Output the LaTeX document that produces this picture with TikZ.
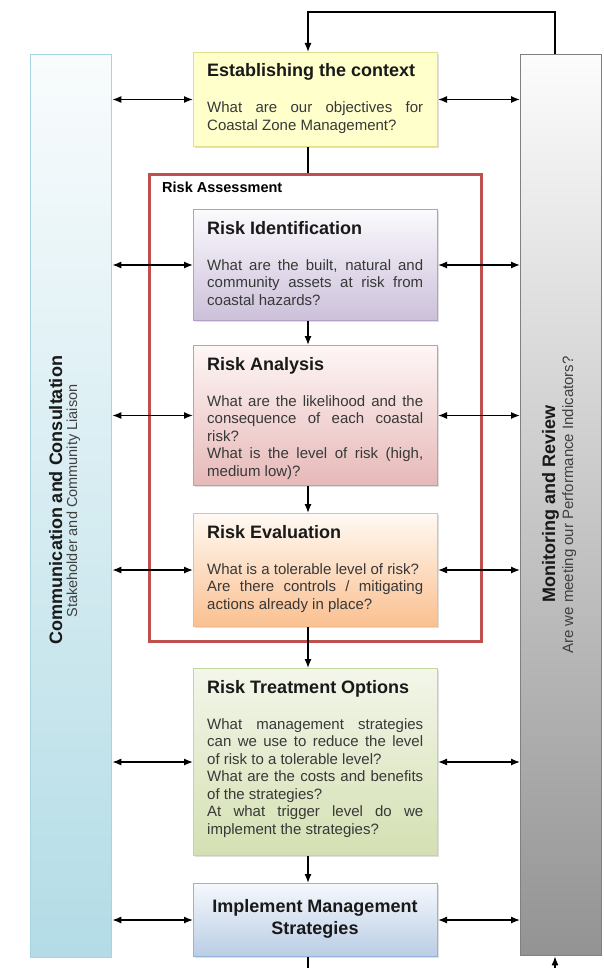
\documentclass[tikz,border=0pt]{standalone}
\usepackage{fontspec}
\setmainfont{Liberation Sans}
\usetikzlibrary{arrows.meta,shadows,calc}

\definecolor{ctxfill}{HTML}{FFFFCC}
\definecolor{ctxline}{HTML}{E0E08C}
\definecolor{idtop}{HTML}{FBFAFD}
\definecolor{idbot}{HTML}{CCC0DA}
\definecolor{idline}{HTML}{B1A0C7}
\definecolor{antop}{HTML}{FEF6F6}
\definecolor{anbot}{HTML}{E6B9B8}
\definecolor{anline}{HTML}{D99694}
\definecolor{evtop}{HTML}{FFF9F3}
\definecolor{evbot}{HTML}{FAC090}
\definecolor{evline}{HTML}{F6B98A}
\definecolor{trtop}{HTML}{F3F6EA}
\definecolor{trbot}{HTML}{D4E0B2}
\definecolor{trline}{HTML}{C3D69B}
\definecolor{imtop}{HTML}{F5F8FC}
\definecolor{imbot}{HTML}{B9CDE5}
\definecolor{imline}{HTML}{95B3D7}
\definecolor{comtop}{HTML}{F9FCFD}
\definecolor{combot}{HTML}{B3DCE6}
\definecolor{comline}{HTML}{A5D5E0}
\definecolor{revtop}{HTML}{FCFCFC}
\definecolor{revbot}{HTML}{939393}
\definecolor{revline}{HTML}{808080}
\definecolor{rared}{HTML}{C0504D}

\newcommand\mybody[1]{\begin{minipage}[t]{216pt}\fontsize{15}{17.5}\selectfont\tolerance=10000\hyphenpenalty=10000\exhyphenpenalty=10000\parindent=0pt #1\end{minipage}}

\begin{document}
\begin{tikzpicture}[x=1pt,y=1pt,
  box/.style={draw, line width=1pt, rectangle, inner sep=0pt, anchor=north west,
    drop shadow={shadow xshift=1.5pt,shadow yshift=-1.5pt,opacity=0.25}},
  bar/.style={draw, line width=1.3pt, rectangle, inner sep=0pt, anchor=north west,
    minimum width=81pt},
  ttl/.style={anchor=base west, inner sep=0pt, font=\fontsize{18}{22}\selectfont\bfseries, text=black!90},
  bdy/.style={anchor=base west, inner sep=0pt, text=black!78},
  rtitle/.style={rotate=90, anchor=base, inner sep=0pt, font=\fontsize{18}{22}\selectfont\bfseries, text=black!90},
  rsub/.style={rotate=90, anchor=base, inner sep=0pt, text=black!75},
  arr/.style={-{Latex[length=9pt,width=7pt]}, line width=1.3pt},
  dbl/.style={{Latex[length=9pt,width=7pt]}-{Latex[length=9pt,width=7pt]}, line width=1.3pt},
  ln/.style={line width=1.3pt}
]
\fill[white] (0,0) rectangle (604,-968);
\useasboundingbox (0,0) rectangle (604,-968);

% side bars
\node[bar, minimum height=903pt, top color=comtop, bottom color=combot, draw=comline] (com) at (30,-54) {};
\node[bar, minimum height=901pt, top color=revtop, bottom color=revbot, draw=revline] (rev) at (520,-54) {};
\node[rtitle] (comT) at (62,-500) {Communication and Consultation};
\node[rsub, font=\fontsize{14.5}{17}\selectfont] (comS) at (77,-501) {Stakeholder and Community Liaison};
\node[rtitle] (revT) at (555,-504) {Monitoring and Review};
\node[rsub, font=\fontsize{15}{17}\selectfont] (revS) at (573,-505) {Are we meeting our Performance Indicators?};

% risk assessment frame
\node[draw=rared, line width=3pt, fill=white, rectangle, inner sep=0pt, anchor=north west,
  minimum width=332pt, minimum height=467pt] (ra) at (148,-173) {};
\node[anchor=base west, inner sep=0pt, font=\fontsize{14.5}{17}\selectfont\bfseries] (raT) at (162,-193) {Risk Assessment};

% boxes
\node[box, minimum width=244pt, minimum height=94pt, fill=ctxfill, draw=ctxline] (ctx) at (193,-52) {};
\node[ttl] (ctxT) at (207,-77) {Establishing the context};
\node[bdy] (ctxB) at (207,-113) {\mybody{What are our objectives for \linebreak Coastal Zone Management?}};

\node[box, minimum width=244pt, minimum height=111pt, top color=idtop, bottom color=idbot, draw=idline] (id) at (193,-209) {};
\node[ttl] (idT) at (207,-234) {Risk Identification};
\node[bdy] (idB) at (207,-270) {\mybody{What are the built, natural and \linebreak community assets at risk from \linebreak coastal hazards?}};

\node[box, minimum width=244pt, minimum height=140pt, top color=antop, bottom color=anbot, draw=anline] (an) at (193,-345) {};
\node[ttl] (anT) at (207,-370) {Risk Analysis};
\node[bdy] (anB) at (207,-406) {\mybody{What are the likelihood and the \linebreak consequence of each coastal \linebreak risk?\par What is the level of risk (high, \linebreak medium low)?}};

\node[box, minimum width=244pt, minimum height=113pt, top color=evtop, bottom color=evbot, draw=evline] (ev) at (193,-513) {};
\node[ttl] (evT) at (207,-538) {Risk Evaluation};
\node[bdy] (evB) at (207,-574) {\mybody{What is a tolerable level of risk?\par Are there controls / mitigating \linebreak actions already in place?}};

\node[box, minimum width=244pt, minimum height=187pt, top color=trtop, bottom color=trbot, draw=trline] (tr) at (193,-668) {};
\node[ttl] (trT) at (207,-693) {Risk Treatment Options};
\node[bdy] (trB) at (207,-729) {\mybody{What management strategies \linebreak can we use to reduce the level \linebreak of risk to a tolerable level?\par What are the costs and benefits \linebreak of the strategies?\par At what trigger level do we \linebreak implement the strategies?}};

\node[box, minimum width=244pt, minimum height=73pt, top color=imtop, bottom color=imbot, draw=imline] (im) at (193,-883) {};
\node[align=center, inner sep=0pt, font=\fontsize{18}{22}\selectfont\bfseries, text=black!90] (imT) at (315,-919) {Implement Management\\Strategies};

% coordinates for connectors
\coordinate (cx) at (308,0);
\coordinate (top1) at (555,-12);
\coordinate (top2) at (308,-12);
\coordinate (bot1) at (308,-968);
\coordinate (bot2) at (555,-968);

% vertical flow
\draw[arr] (rev.north -| top1) -- (top1) -- (top2) -- (ctx.north -| cx);
\draw[ln] (ctx.south -| cx) -- (ra.north -| cx);
\draw[arr] (id.south -| cx) -- (an.north -| cx);
\draw[arr] (an.south -| cx) -- (ev.north -| cx);
\draw[arr] (ev.south -| cx) -- (tr.north -| cx);
\draw[arr] (tr.south -| cx) -- (im.north -| cx);
\draw[ln] (im.south -| cx) -- (bot1);
\draw[arr] (bot2) -- (rev.south -| bot2);

% horizontal links
\foreach \b in {ctx,id,an,ev,tr,im}{
  \draw[dbl] (com.east |- \b.west) -- (\b.west);
  \draw[dbl] (\b.east) -- (rev.west |- \b.east);
}
\end{tikzpicture}
\end{document}
